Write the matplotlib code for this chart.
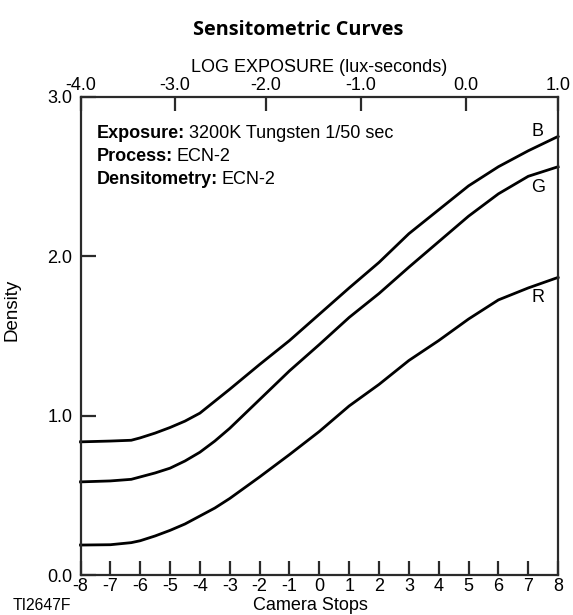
import numpy as np
import matplotlib
matplotlib.use("Agg")
import matplotlib.pyplot as plt

# ---- data ----
stops = [-8, -7, -6.3, -6, -5.5, -5, -4.5, -4, -3.5, -3, -2, -1, 0, 1, 2, 3, 4, 5, 6, 7, 8]
density_B = [0.835, 0.84, 0.845, 0.86, 0.89, 0.925, 0.965, 1.015, 1.09, 1.165, 1.32, 1.47, 1.635, 1.80, 1.96, 2.14, 2.29, 2.44, 2.56, 2.66, 2.75]
density_G = [0.584, 0.59, 0.60, 0.615, 0.64, 0.67, 0.715, 0.77, 0.84, 0.92, 1.10, 1.28, 1.445, 1.615, 1.765, 1.93, 2.09, 2.25, 2.39, 2.50, 2.56]
density_R = [0.188, 0.19, 0.203, 0.215, 0.245, 0.28, 0.32, 0.37, 0.42, 0.48, 0.615, 0.755, 0.90, 1.06, 1.195, 1.345, 1.47, 1.605, 1.725, 1.80, 1.866]
series_names = ["B", "G", "R"]

stop_ticks = list(range(-8, 9))
density_ticks = [0.0, 1.0, 2.0, 3.0]
log_exposure_ticks = [-4.0, -3.0, -2.0, -1.0, 0.0, 1.0]
# position (in camera stops) of each log-exposure tick as drawn
log_tick_stop_pos = [-8.0, -4.84, -1.79, 1.39, 4.91, 8.0]

title = "Sensitometric Curves"
notes = [("Exposure:", "3200K Tungsten 1/50 sec"),
         ("Process:", "ECN-2"),
         ("Densitometry:", "ECN-2")]

# ---- figure ----
plt.rcParams['font.family'] = ['Liberation Sans', 'DejaVu Sans']
fig = plt.figure(figsize=(5.73, 6.15), dpi=100)
ax = fig.add_axes([0.1405, 0.065, 0.8335, 0.778])

frame_color = "#2a2a2a"
for name, d in zip(series_names, [density_B, density_G, density_R]):
    ax.plot(stops, d, color="black", lw=2.0, solid_joinstyle="round", clip_on=False)

ax.set_xlim(-8, 8)
ax.set_ylim(0, 3.0)
ax.set_xticks(stop_ticks)
ax.set_xticklabels([str(s) for s in stop_ticks])
ax.set_yticks(density_ticks)
ax.set_yticklabels([f"{v:.1f}" for v in density_ticks])

for sp in ax.spines.values():
    sp.set_linewidth(1.6)
    sp.set_color(frame_color)

ax.tick_params(axis="x", direction="in", length=10, width=1.6, color=frame_color,
               labelsize=13, pad=2, top=False)
ax.tick_params(axis="y", direction="in", length=11, width=1.6, color=frame_color,
               labelsize=13, pad=6, right=False)

ax.set_ylabel("Density", fontsize=13.5, labelpad=0)
ax.yaxis.set_label_coords(-0.125, 0.555)

# top axis: log exposure
def stop_to_log(s):
    return np.interp(s, log_tick_stop_pos, log_exposure_ticks)

def log_to_stop(l):
    return np.interp(l, log_exposure_ticks, log_tick_stop_pos)

sec = ax.secondary_xaxis("top", functions=(stop_to_log, log_to_stop))
sec.set_xticks(log_exposure_ticks)
sec.set_xticklabels([f"{v:.1f}" for v in log_exposure_ticks])
sec.tick_params(direction="in", length=10, width=1.6, color=frame_color, labelsize=13, pad=2)
sec.spines["top"].set_visible(False)
sec.set_xlabel("LOG EXPOSURE (lux-seconds)", fontsize=13, labelpad=3.5)

# title
fig.text(0.52, 0.951, title, ha="center", va="center", fontsize=14.3,
         fontweight="bold", family=["Open Sans", "DejaVu Sans"])

# bottom label
fig.text(0.541, 0.001, "Camera Stops", fontsize=13, ha="center", va="bottom")

# notes
y0 = 2.77
for i, (b, r) in enumerate(notes):
    yy = y0 - i * 0.145
    t = ax.text(-7.45, yy, b, fontsize=13, fontweight="bold", va="center", ha="left")
    fig.canvas.draw()
    bb = t.get_window_extent()
    x_end = ax.transData.inverted().transform((bb.x1, bb.y0))[0]
    ax.text(x_end + 0.12, yy, r, fontsize=13, va="center", ha="left")

# series labels
label_y = {"B": 2.78, "G": 2.43, "R": 1.74}
for n in series_names:
    ax.text(7.32, label_y[n], n, fontsize=13, ha="center", va="center")

fig.text(0.022, 0.004, "TI2647F", fontsize=11.3, ha="left", va="bottom")

fig.savefig("out.png", dpi=100)
